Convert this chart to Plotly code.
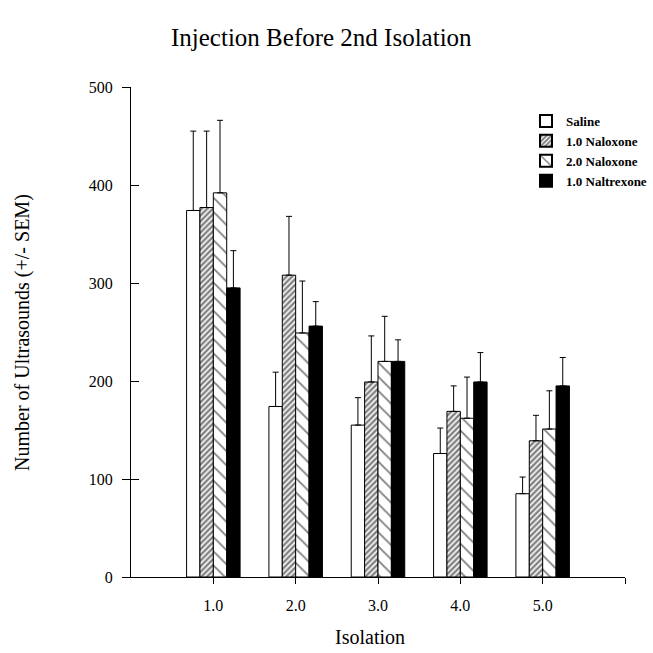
import plotly.graph_objects as go

isolation = [1, 2, 3, 4, 5]
tick_labels = ["1.0", "2.0", "3.0", "4.0", "5.0"]

saline = [374, 174, 155, 126, 85]
saline_sem = [81, 35, 28, 26, 17]
nal1 = [377, 308, 199, 169, 139]
nal1_sem = [78, 60, 47, 26, 26]
nal2 = [392, 249, 220, 162, 151]
nal2_sem = [74, 53, 46, 42, 39]
naltr = [295, 256, 220, 199, 195]
naltr_sem = [38, 25, 22, 30, 29]

SERIF = "Liberation Serif, Times New Roman, serif"

# plot area in pixels
L, R, T, B = 131, 625, 87, 577
W, H = 653, 653


def px(x):
    return (x - L) / (R - L)


def py(y):
    return (B - y) / (B - T)


def err(arr):
    return dict(type="data", array=arr, arrayminus=[0] * len(arr), symmetric=False,
                color="black", thickness=1, width=3)


fig = go.Figure()
fig.add_trace(go.Bar(
    x=isolation, y=saline, name="<b>Saline</b>", error_y=err(saline_sem),
    marker=dict(color="white", line=dict(color="black", width=1)),
))
fig.add_trace(go.Bar(
    x=isolation, y=nal1, name="<b>1.0 Naloxone</b>", error_y=err(nal1_sem),
    marker=dict(color="white", line=dict(color="black", width=1),
                pattern=dict(shape="/", size=4, solidity=0.6, fgcolor="black", bgcolor="white")),
))
fig.add_trace(go.Bar(
    x=isolation, y=nal2, name="<b>2.0 Naloxone</b>", error_y=err(nal2_sem),
    marker=dict(color="white", line=dict(color="black", width=1),
                pattern=dict(shape="\\", size=10, solidity=0.18, fgcolor="black", bgcolor="white")),
))
fig.add_trace(go.Bar(
    x=isolation, y=naltr, name="<b>1.0 Naltrexone</b>", error_y=err(naltr_sem),
    marker=dict(color="black", line=dict(color="black", width=1)),
))

# invisible trace on overlay axis for crossing ticks
fig.add_trace(go.Scatter(x=[None], y=[None], yaxis="y2", showlegend=False, hoverinfo="skip"))

fig.update_layout(
    width=W, height=H,
    margin=dict(l=L, r=W - R, t=T, b=H - B, autoexpand=False),
    paper_bgcolor="white", plot_bgcolor="white",
    barmode="group", bargap=0.35, bargroupgap=0,
    font=dict(family=SERIF, color="black", size=15),
    showlegend=True,
    legend=dict(x=px(526), y=py(106), xanchor="left", yanchor="top",
                font=dict(family=SERIF, size=13, color="black"),
                tracegroupgap=0, itemsizing="constant", bgcolor="rgba(0,0,0,0)"),
    xaxis=dict(range=[0, 6], tickvals=isolation + [6], ticktext=tick_labels + [""],
               ticks="outside", ticklen=6, tickcolor="black", tickwidth=1,
               showline=True, linecolor="black", linewidth=1, showgrid=False, zeroline=False,
               tickfont=dict(family=SERIF, size=16), ticklabelstandoff=8),
    yaxis=dict(range=[0, 500], tickvals=[0, 100, 200, 300, 400, 500],
               ticks="inside", ticklen=8, tickcolor="black", tickwidth=1,
               showline=True, linecolor="black", linewidth=1, showgrid=False, zeroline=False,
               tickfont=dict(family=SERIF, size=16), ticklabelstandoff=14),
    yaxis2=dict(range=[0, 500], overlaying="y", side="left", tickvals=[0, 100, 500],
                ticks="outside", ticklen=8, tickcolor="black", tickwidth=1,
                showticklabels=False, showline=False, showgrid=False, zeroline=False),
    annotations=[
        dict(text="Injection Before 2nd Isolation", x=px(321), y=py(38), xref="paper", yref="paper",
             showarrow=False, font=dict(family=SERIF, size=25), xanchor="center", yanchor="middle"),
        dict(text="Number of Ultrasounds (+/- SEM)", x=px(22), y=py(333), xref="paper", yref="paper",
             showarrow=False, textangle=-90, font=dict(family=SERIF, size=20),
             xanchor="center", yanchor="middle"),
        dict(text="Isolation", x=px(370), y=py(637), xref="paper", yref="paper",
             showarrow=False, font=dict(family=SERIF, size=20), xanchor="center", yanchor="middle"),
    ],
)

fig.write_html("out.html", config={"displayModeBar": False},
               post_script="document.body.style.margin='0';document.body.style.overflow='hidden';")
